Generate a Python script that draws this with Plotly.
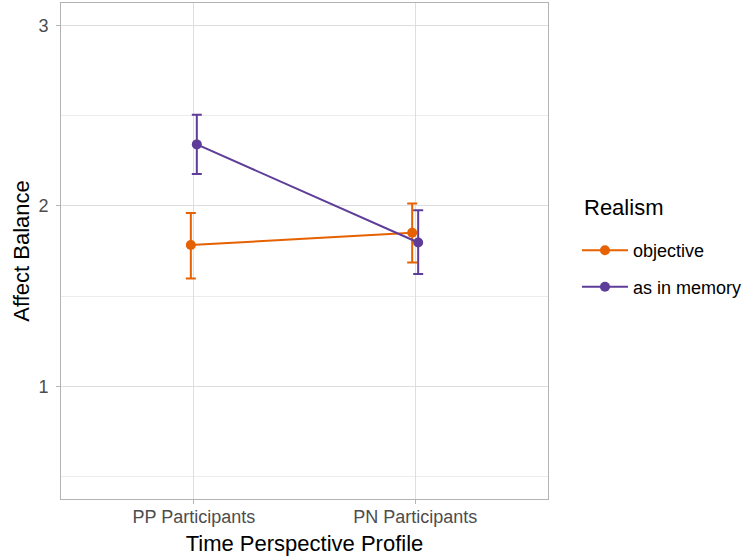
import plotly.graph_objects as go

categories = ["PP Participants", "PN Participants"]
series_names = ["objective", "as in memory"]
means = {
    "objective": [1.783, 1.851],
    "as in memory": [2.341, 1.797],
}
upper = {
    "objective": [1.960, 2.013],
    "as in memory": [2.505, 1.976],
}
lower = {
    "objective": [1.598, 1.686],
    "as in memory": [2.177, 1.622],
}
colors = {"objective": "#E66101", "as in memory": "#5E3C99"}
dodge = {"objective": -0.0135, "as in memory": 0.0135}

FONT = "Liberation Sans, Arial, Helvetica, sans-serif"

fig = go.Figure()
for i, name in enumerate(series_names):
    xs = [k + 1 + dodge[name] for k in range(len(categories))]
    m = means[name]
    fig.add_trace(go.Scatter(
        x=xs, y=m, name=name, mode="lines+markers",
        legendgroup=name,
        line=dict(color=colors[name], width=2),
        marker=dict(color=colors[name], size=10),
        error_y=dict(
            type="data", symmetric=False,
            array=[u - v for u, v in zip(upper[name], m)],
            arrayminus=[v - l for v, l in zip(m, lower[name])],
            color=colors[name], thickness=2, width=5,
        ),
    ))

fig.update_layout(
    width=744, height=558,
    margin=dict(l=61, r=196, t=3, b=59),
    paper_bgcolor="white", plot_bgcolor="white",
    font=dict(family=FONT, color="black"),
    showlegend=True,
    legend=dict(
        font=dict(size=18, color="black"),
        xref="container", yref="container",
        x=0.7755, xanchor="left", y=0.584, yanchor="top",
        itemwidth=46,
        tracegroupgap=10,
        bgcolor="rgba(0,0,0,0)",
    ),
    annotations=[dict(
        text="Realism", xref="paper", yref="paper",
        x=1.070, y=0.587, xanchor="left", yanchor="middle",
        showarrow=False, font=dict(size=22, color="black"),
    )],
)
fig.update_xaxes(
    range=[0.4, 2.6], automargin=False,
    tickvals=[1, 2], ticktext=categories,
    tickfont=dict(size=18, color="#4d4d4d"),
    ticklabelstandoff=-3,
    title=dict(text="Time Perspective Profile", font=dict(size=22, color="black"), standoff=10),
    showgrid=True, gridcolor="#dedede", gridwidth=1,
    showline=True, linecolor="#b3b3b3", linewidth=1, mirror=True,
    ticks="outside", ticklen=4, tickcolor="#b3b3b3",
    zeroline=False,
)
fig.update_yaxes(
    range=[0.375, 3.125], automargin=False,
    tickvals=[1, 2, 3],
    tickfont=dict(size=18, color="#4d4d4d"),
    ticklabelstandoff=4,
    title=dict(text="Affect Balance", font=dict(size=22, color="black"), standoff=2),
    showgrid=True, gridcolor="#dedede", gridwidth=1,
    minor=dict(tickvals=[0.5, 1.5, 2.5], showgrid=True, gridcolor="#ececec", gridwidth=1, ticks=""),
    showline=True, linecolor="#b3b3b3", linewidth=1, mirror=True,
    ticks="outside", ticklen=4, tickcolor="#b3b3b3",
    zeroline=False,
)

fig.write_html("out.html", config={"displayModeBar": False},
               post_script="document.body.style.margin='0';")
